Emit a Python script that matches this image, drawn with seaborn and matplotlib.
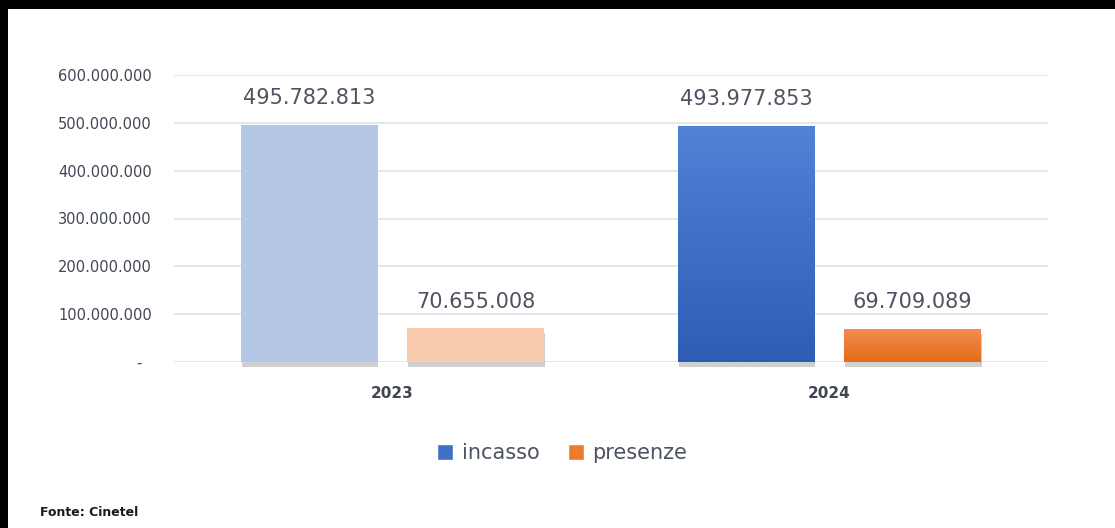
import numpy as np
import pandas as pd
import matplotlib
matplotlib.use("Agg")
import matplotlib.pyplot as plt
import matplotlib.patheffects as pe
from matplotlib.patches import Rectangle, Patch
from matplotlib.colors import LinearSegmentedColormap
import seaborn as sns

# ---- data ----
years = ["2023", "2024"]
series = ["incasso", "presenze"]
incasso = [495782813, 493977853]
presenze = [70655008, 69709089]
yticks = [0, 100000000, 200000000, 300000000, 400000000, 500000000, 600000000]

df = pd.DataFrame({
    "anno": years * 2,
    "serie": [series[0]] * 2 + [series[1]] * 2,
    "valore": incasso + presenze,
})

def fmt(v):
    if v == 0:
        return "-\u2007"
    return f"{int(v):,}".replace(",", ".")

sns.set_theme(style="white")
plt.rcParams["font.family"] = ["DejaVu Sans"]
TXT = "#4d5360"

W, H = 1115, 528
fig = plt.figure(figsize=(W / 100, H / 100), dpi=100)
fig.patch.set_facecolor("white")
ax = fig.add_axes([174 / W, 1 - 362 / H, (1048 - 174) / W, (362 - 75) / H])

dark = ["#3F6FC6", "#EE7A2E"]
light = ["#B4C7E7", "#F8CBAD"]
sns.barplot(data=df, x="anno", y="valore", hue="serie", hue_order=series,
            order=years, palette=dark, width=0.762, gap=0.18, ax=ax,
            legend=False, errorbar=None, saturation=1)

ax.set_ylim(0, 600000000)
ax.set_xlim(-0.5, 1.5)
ax.set_yticks(yticks)
ax.set_yticklabels([fmt(v) for v in yticks], fontsize=10.5, color="#404654")
ax.set_xticks(range(len(years)))
ax.set_xticklabels(years, fontsize=11, fontweight="bold", color="#404654")
ax.tick_params(axis="y", length=0, pad=16)
ax.tick_params(axis="x", length=0, pad=17)
ax.set_xlabel("")
ax.set_ylabel("")
for s in ax.spines.values():
    s.set_visible(False)
ax.yaxis.grid(True, color="#E2E6EB", lw=1.3)
ax.set_axisbelow(True)

shadow = [pe.SimplePatchShadow(offset=(0.5, -3.5), shadow_rgbFace="#8a8a8a", alpha=0.4), pe.Normal()]
grads = [("#5282D6", "#2D5DB5"), ("#F28D52", "#E46B18")]
for si, cont in enumerate(ax.containers):
    for yi, bar in enumerate(cont.patches):
        bar.set_clip_on(False)
        bar.set_path_effects(shadow)
        bar.set_edgecolor("none")
        if yi == 0:
            bar.set_facecolor(light[si])
        else:
            x, w, h = bar.get_x(), bar.get_width(), bar.get_height()
            cmap = LinearSegmentedColormap.from_list("g", [grads[si][1], grads[si][0]])
            grad = np.linspace(0, 1, 100).reshape(-1, 1)
            im = ax.imshow(grad, extent=[x, x + w, 0, h], origin="lower",
                           aspect="auto", cmap=cmap, zorder=bar.get_zorder() + 0.1)
            im.set_clip_path(bar)
    ax.bar_label(cont, labels=[fmt(v) for v in cont.datavalues],
                 padding=12, fontsize=15, color=TXT)

ax.set_xlim(-0.5, 1.5)
ax.set_ylim(0, 600000000)

handles = [Patch(facecolor=dark[0]), Patch(facecolor=dark[1])]
leg = fig.legend(handles, series, loc="center", bbox_to_anchor=(562 / W, 1 - 453 / H),
                 ncol=2, frameon=False, fontsize=15, handlelength=0.8, handleheight=0.8,
                 columnspacing=1.35, handletextpad=0.4)
for t in leg.get_texts():
    t.set_color(TXT)

fig.text(40 / W, 1 - 513 / H, "Fonte: Cinetel", fontsize=9, fontweight="bold",
         color="#1a1a1a", va="center", ha="left")

fig.patches.append(Rectangle((0, 1 - 9 / H), 1, 9 / H, transform=fig.transFigure,
                             facecolor="black", edgecolor="none", zorder=10))
fig.patches.append(Rectangle((0, 0), 8 / W, 1, transform=fig.transFigure,
                             facecolor="black", edgecolor="none", zorder=10))

fig.savefig("out.png", dpi=100)
